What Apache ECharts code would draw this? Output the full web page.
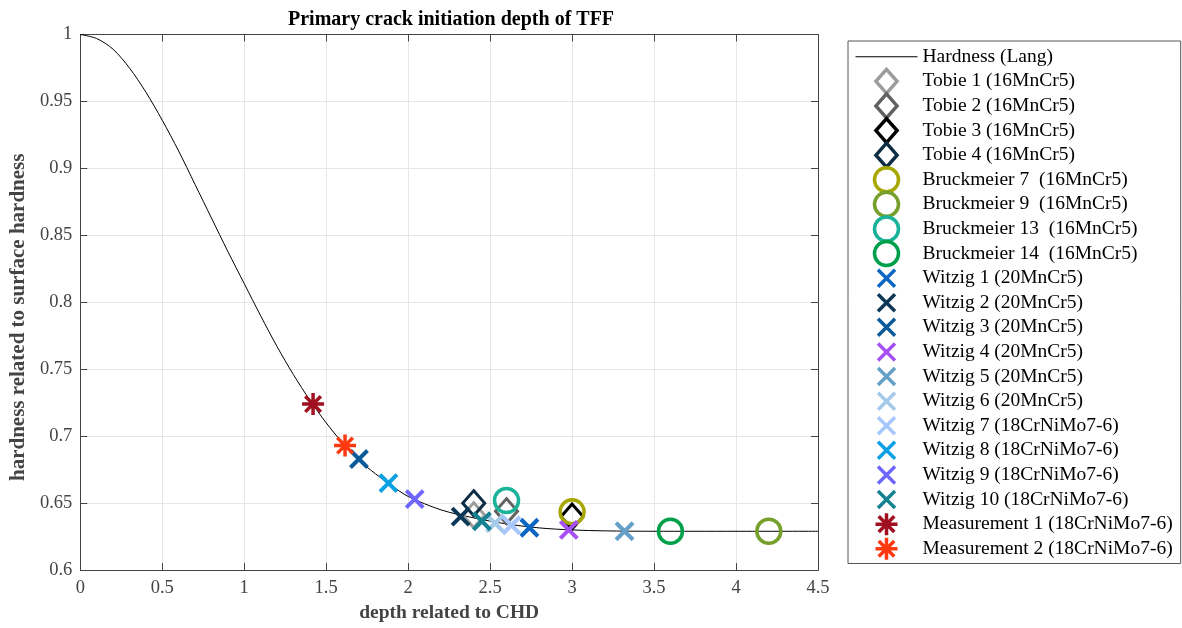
<!DOCTYPE html>
<html lang="en">
    <head>
        <meta charset="UTF-8">
        <title>Primary crack initiation depth of TFF</title>
        <script src="https://cdn.jsdelivr.net/npm/echarts@6/dist/echarts.min.js"></script>
        <style type="text/css">
            html, body { margin: 0; padding: 0; background: #fff; }
            #main { width: 1182px; height: 628px; }
        </style>
    </head>
    <body>
        <div id="main"></div>
    </body>

    <script type="text/javascript">
        // axis ticks
        var xTicks = [0, 0.5, 1, 1.5, 2, 2.5, 3, 3.5, 4, 4.5];
        var yTicks = [0.6, 0.65, 0.7, 0.75, 0.8, 0.85, 0.9, 0.95, 1];

        // hardness curve (Lang)
        var langX = [0, 0.1, 0.2, 0.3, 0.4, 0.5, 0.6, 0.7, 0.8, 0.9, 1.0, 1.1, 1.2, 1.3, 1.4, 1.5, 1.6, 1.7, 1.8, 1.9, 2.0, 2.2, 2.4, 2.6, 2.8, 3.0, 3.2, 3.5, 4.0, 4.5];
        var langY = [1.000, 0.997, 0.989, 0.975, 0.957, 0.936, 0.913, 0.888, 0.863, 0.838, 0.814, 0.790, 0.767, 0.746, 0.727, 0.710, 0.695, 0.682, 0.672, 0.663, 0.655, 0.645, 0.639, 0.6345, 0.6315, 0.630, 0.6293, 0.629, 0.629, 0.629];

        // measured points
        var tobie1 = [[2.40, 0.641]];
        var tobie2 = [[2.60, 0.644]];
        var tobie3 = [[3.00, 0.640]];
        var tobie4 = [[2.40, 0.650]];
        var bruck7 = [[3.00, 0.6435]];
        var bruck9 = [[4.20, 0.629]];
        var bruck13 = [[2.60, 0.652]];
        var bruck14 = [[3.60, 0.629]];
        var witzig1 = [[2.74, 0.6316]];
        var witzig2 = [[2.32, 0.640]];
        var witzig3 = [[1.70, 0.683]];
        var witzig4 = [[2.98, 0.630]];
        var witzig5 = [[3.32, 0.629]];
        var witzig6 = [[2.53, 0.635]];
        var witzig7 = [[2.63, 0.6335]];
        var witzig8 = [[1.88, 0.665]];
        var witzig9 = [[2.04, 0.653]];
        var witzig10 = [[2.45, 0.6365]];
        var meas1 = [[1.42, 0.724]];
        var meas2 = [[1.615, 0.693]];

        var FONT = 'Liberation Serif';
        // symbols padded to a fixed box so legend and plot sizes match
        var DIAMOND = 'path://M11 0L22 12.5L11 25L0 12.5Z';
        var CROSS = 'path://M0 0M24 24M3.5 3.5L20.5 20.5M20.5 3.5L3.5 20.5';
        var STAR = 'path://M0 0M24 24M12 1L12 23M1 12L23 12M4.2 4.2L19.8 19.8M19.8 4.2L4.2 19.8';
        var LINE = 'path://M0 0M0 12L62 12M62 24';

        var markers = [
            { name: 'Tobie 1 (16MnCr5)', data: tobie1, symbol: DIAMOND, color: '#9c9c9c', bw: 3 },
            { name: 'Tobie 2 (16MnCr5)', data: tobie2, symbol: DIAMOND, color: '#616161', bw: 3 },
            { name: 'Tobie 3 (16MnCr5)', data: tobie3, symbol: DIAMOND, color: '#000000', bw: 3 },
            { name: 'Tobie 4 (16MnCr5)', data: tobie4, symbol: DIAMOND, color: '#0c2d44', bw: 3 },
            { name: 'Bruckmeier 7  (16MnCr5)', data: bruck7, symbol: 'circle', color: '#a6a800', bw: 3.5 },
            { name: 'Bruckmeier 9  (16MnCr5)', data: bruck9, symbol: 'circle', color: '#76a02b', bw: 3.5 },
            { name: 'Bruckmeier 13  (16MnCr5)', data: bruck13, symbol: 'circle', color: '#19b39a', bw: 3.5 },
            { name: 'Bruckmeier 14  (16MnCr5)', data: bruck14, symbol: 'circle', color: '#00a04b', bw: 3.5 },
            { name: 'Witzig 1 (20MnCr5)', data: witzig1, symbol: CROSS, color: '#0a66c2', bw: 4 },
            { name: 'Witzig 2 (20MnCr5)', data: witzig2, symbol: CROSS, color: '#0d3756', bw: 4 },
            { name: 'Witzig 3 (20MnCr5)', data: witzig3, symbol: CROSS, color: '#0b5a9a', bw: 4 },
            { name: 'Witzig 4 (20MnCr5)', data: witzig4, symbol: CROSS, color: '#a650f5', bw: 4 },
            { name: 'Witzig 5 (20MnCr5)', data: witzig5, symbol: CROSS, color: '#64a0c8', bw: 4 },
            { name: 'Witzig 6 (20MnCr5)', data: witzig6, symbol: CROSS, color: '#a5c9ea', bw: 4 },
            { name: 'Witzig 7 (18CrNiMo7-6)', data: witzig7, symbol: CROSS, color: '#a6c6fc', bw: 4 },
            { name: 'Witzig 8 (18CrNiMo7-6)', data: witzig8, symbol: CROSS, color: '#0aa0e6', bw: 4 },
            { name: 'Witzig 9 (18CrNiMo7-6)', data: witzig9, symbol: CROSS, color: '#6f66ff', bw: 4 },
            { name: 'Witzig 10 (18CrNiMo7-6)', data: witzig10, symbol: CROSS, color: '#148290', bw: 4 },
            { name: 'Measurement 1 (18CrNiMo7-6)', data: meas1, symbol: STAR, color: '#a01020', bw: 3.5 },
            { name: 'Measurement 2 (18CrNiMo7-6)', data: meas2, symbol: STAR, color: '#ff3a10', bw: 3.5 }
        ];

        var lang = [];
        for (var i = 0; i < langX.length; i++) {
            lang.push([langX[i], langY[i]]);
        }

        var series = [{
            name: 'Hardness (Lang)',
            type: 'line',
            data: lang,
            smooth: 0.3,
            symbol: 'none',
            lineStyle: { color: '#000', width: 1 },
            itemStyle: { color: '#000' },
            z: 1
        }];
        var legendData = [{
            name: 'Hardness (Lang)',
            icon: LINE,
            itemStyle: { color: 'rgba(0,0,0,0)', borderColor: '#000', borderWidth: 1 }
        }];
        for (var j = 0; j < markers.length; j++) {
            var m = markers[j];
            series.push({
                name: m.name,
                type: 'scatter',
                data: m.data,
                symbol: m.symbol,
                symbolSize: m.symbol == DIAMOND ? [22, 25] : 24,
                itemStyle: { color: 'rgba(0,0,0,0)', borderColor: m.color, borderWidth: m.bw, opacity: 1 },
                emphasis: { disabled: true },
                z: 2 + j
            });
            // keep one stroke width in the legend so every row has the same height
            legendData.push({ name: m.name, itemStyle: { borderWidth: 3.5 } });
        }

        var axisColor = '#444';
        var xStep = xTicks[1] - xTicks[0];
        var yStep = +(yTicks[1] - yTicks[0]).toFixed(4);

        var myChart = echarts.init(document.getElementById('main'));
        myChart.setOption({
            animation: false,
            title: {
                text: 'Primary crack initiation depth of TFF',
                left: 283,
                top: 5,
                textStyle: { fontFamily: FONT, fontSize: 20, fontWeight: 'bold', color: '#000' }
            },
            legend: {
                orient: 'vertical',
                left: 848,
                top: 41,
                itemWidth: 62,
                itemHeight: 24,
                itemGap: -2.9,
                padding: [2, 8, 1, 7],
                borderColor: '#555',
                borderWidth: 1,
                backgroundColor: '#fff',
                textStyle: { fontFamily: FONT, fontSize: 19.5, lineHeight: 27.5, color: '#000' },
                selectedMode: false,
                data: legendData
            },
            grid: { left: 77, right: 364, top: 34.5, bottom: 56, containLabel: false },
            xAxis: [{
                type: 'value',
                min: xTicks[0], max: xTicks[xTicks.length - 1], interval: xStep,
                name: 'depth related to CHD',
                nameLocation: 'middle',
                nameGap: 31,
                nameTextStyle: { fontFamily: FONT, fontSize: 19.5, fontWeight: 'bold', color: '#444' },
                axisLine: { onZero: false, lineStyle: { color: axisColor, width: 1 } },
                axisTick: { inside: true, length: 7, lineStyle: { color: axisColor } },
                axisLabel: { margin: 9, fontFamily: FONT, fontSize: 18.5, color: '#444' },
                splitLine: { show: true, lineStyle: { color: '#e6e6e6', width: 1 } }
            }, {
                type: 'value', position: 'top',
                min: xTicks[0], max: xTicks[xTicks.length - 1], interval: xStep,
                axisLine: { onZero: false, lineStyle: { color: axisColor, width: 1 } },
                axisTick: { inside: true, length: 7, lineStyle: { color: axisColor } },
                axisLabel: { show: false },
                splitLine: { show: false }
            }],
            yAxis: [{
                type: 'value',
                min: yTicks[0], max: yTicks[yTicks.length - 1], interval: yStep,
                name: 'hardness related to surface hardness',
                nameLocation: 'middle',
                nameGap: 40,
                nameTextStyle: { fontFamily: FONT, fontSize: 21, fontWeight: 'bold', color: '#444', padding: [0, 30, 0, 0] },
                axisLine: { onZero: false, lineStyle: { color: axisColor, width: 1 } },
                axisTick: { inside: true, length: 7, lineStyle: { color: axisColor } },
                axisLabel: { margin: 8, fontFamily: FONT, fontSize: 18.5, color: '#444' },
                splitLine: { show: true, lineStyle: { color: '#e6e6e6', width: 1 } }
            }, {
                type: 'value', position: 'right',
                min: yTicks[0], max: yTicks[yTicks.length - 1], interval: yStep,
                axisLine: { onZero: false, lineStyle: { color: axisColor, width: 1 } },
                axisTick: { inside: true, length: 7, lineStyle: { color: axisColor } },
                axisLabel: { show: false },
                splitLine: { show: false }
            }],
            series: series
        });
    </script>
</html>
